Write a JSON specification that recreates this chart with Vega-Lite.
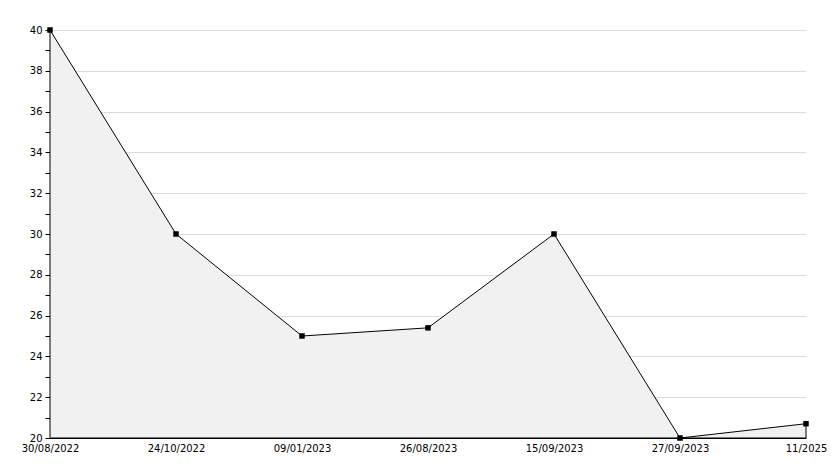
{
  "$schema": "https://vega.github.io/schema/vega-lite/v6.json",
  "width": 756,
  "height": 408,
  "autosize": {"type": "none"},
  "padding": {"left": 50, "top": 30, "right": 28, "bottom": 30},
  "background": "white",
  "config": {
    "view": {"stroke": null},
    "font": "DejaVu Sans",
    "axis": {"labelFont": "DejaVu Sans", "labelFontSize": 10, "labelColor": "#000", "domainColor": "#000", "tickColor": "#000"}
  },
  "data": {
    "values": [
      {"date": "30/08/2022", "value": 40},
      {"date": "24/10/2022", "value": 30},
      {"date": "09/01/2023", "value": 25},
      {"date": "26/08/2023", "value": 25.4},
      {"date": "15/09/2023", "value": 30},
      {"date": "27/09/2023", "value": 20},
      {"date": "11/2025", "value": 20.7}
    ]
  },
  "encoding": {
    "x": {
      "field": "date", "type": "ordinal", "sort": null,
      "scale": {"type": "point", "padding": 0},
      "axis": {"title": null, "labelAngle": 0, "tickSize": 0, "labelPadding": 5, "grid": false, "zindex": 1,
        "encode": {"ticks": {"update": {"y2": {"value": -5}}}}}
    },
    "y": {
      "field": "value", "type": "quantitative",
      "scale": {"domain": [20, 40], "nice": false, "zero": false},
      "axis": {"title": null, "values": [20,21,22,23,24,25,26,27,28,29,30,31,32,33,34,35,36,37,38,39,40],
        "grid": true, "zindex": 0,
        "gridColor": {"condition": {"test": "datum.value % 2 == 0", "value": "#dcdcdc"}, "value": "transparent"},
        "labelExpr": "datum.value % 2 == 0 ? datum.label : ''",
        "tickSize": 5, "labelPadding": 3,
        "encode": {"ticks": {"update": {"x2": {"signal": "datum.value % 2 == 0 ? -5 : 4"}}}}}
    }
  },
  "layer": [
    {
      "mark": {"type": "area", "color": "#f1f1f1", "stroke": "#000", "strokeWidth": 1},
      "encoding": {"y2": {"datum": 20}}
    },
    {
      "mark": {"type": "point", "shape": "square", "filled": true, "color": "#000", "size": 30, "opacity": 1},
      "encoding": {}
    }
  ]
}
